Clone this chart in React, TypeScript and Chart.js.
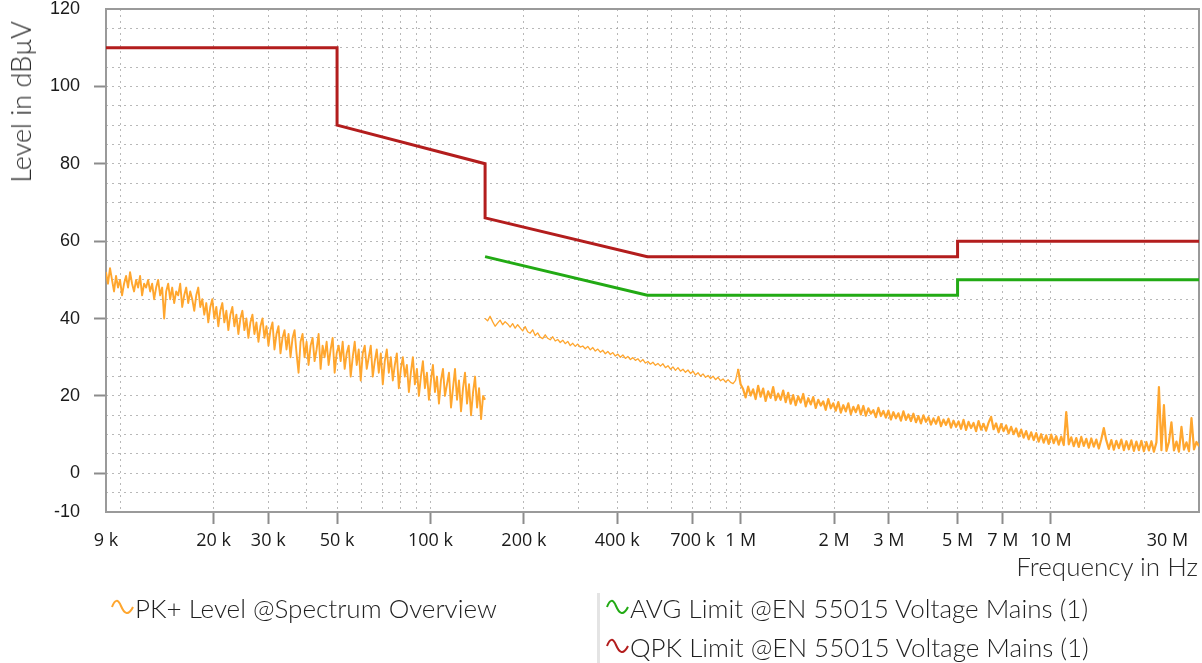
import React, { useEffect, useRef } from 'react';
import { Chart, registerables } from 'chart.js';

Chart.register(...registerables);

// ---------------- data ----------------
// PK+ sweep, band 1 (9 kHz .. 150 kHz), dBµV
const pkBand1Start = 9e3;
const pkBand1Stop = 150e3;
const pkBand1Values = [
  52, 49, 53, 50, 47, 51, 48, 50, 46, 49,
  51, 48, 52, 49, 47, 50, 48, 51, 46, 49,
  48, 50, 47, 49, 45, 48, 50, 46, 48, 40,
  47, 49, 45, 48, 44, 47, 46, 49, 43, 46,
  48, 44, 47, 45, 42, 46, 48, 43, 45, 41,
  44, 39, 43, 45, 40, 43, 38, 42, 44, 39,
  42, 37, 41, 43, 38, 41, 36, 40, 42, 37,
  40, 35, 39, 41, 36, 39, 34, 38, 40, 35,
  38, 33, 37, 39, 32, 36, 38, 31, 35, 37,
  32, 36, 30, 35, 37, 31, 26, 34, 36, 30,
  34, 28, 33, 35, 29, 32, 36, 27, 33, 30,
  34, 28, 32, 35, 26, 31, 33, 29, 34, 27,
  31, 33, 25, 30, 34, 28, 32, 24, 31, 33,
  27, 30, 33, 25, 29, 32, 26, 31, 23, 29,
  32, 26, 30, 24, 28, 31, 22, 27, 30, 25,
  28, 21, 26, 30, 23, 27, 20, 25, 29, 22,
  26, 19, 24, 28, 21, 25, 18, 24, 27, 20,
  23, 26, 17, 22, 27, 19, 24, 16, 22, 26,
  18, 23, 15, 21, 25, 17, 22, 14, 20, 19,
];

// PK+ sweep, band 2 (150 kHz .. 30 MHz), dBµV
const pkBand2Start = 150e3;
const pkBand2Stop = 30e6;
const pkBand2Values = [
  40, 39.4, 40.6, 39.2, 38, 38.8, 39.6, 38.4, 39.2, 38.6,
  37.8, 38.7, 37.5, 38.4, 37.6, 36.8, 37.9, 36.6, 36.2, 37.1,
  35.6, 36.3, 35.2, 34.8, 35.8, 34.9, 34.5, 35.3, 34.2, 34.6,
  33.8, 34.4, 33.5, 34.1, 33.0, 33.6, 32.8, 33.4, 32.6, 32.9,
  32.2, 32.8, 31.9, 32.5, 31.6, 32.1, 31.3, 31.8, 30.9, 31.5,
  30.7, 31.2, 30.3, 30.8, 30.0, 30.6, 29.7, 30.2, 29.4, 29.9,
  29.2, 29.6, 28.8, 29.4, 28.5, 28.9, 28.2, 28.7, 27.9, 28.4,
  27.7, 28.3, 27.3, 27.8, 26.9, 27.5, 26.6, 27.3, 26.4, 26.9,
  26.1, 26.7, 25.8, 26.4, 25.4, 26.0, 25.1, 25.7, 24.8, 25.3,
  24.5, 25.1, 24.2, 24.8, 23.9, 24.4, 23.6, 24.2, 23.5, 23.2,
  24.0, 27.0, 23.0,
  21.8, 19.6, 22.4, 20.1, 21.7, 19.2, 22.6,
  19.8, 21.9, 18.7, 21.2, 19.5, 22.3, 18.9, 20.6, 19.0, 21.4,
  18.4, 20.8, 18.0, 20.2, 17.6, 19.9, 18.3, 20.5, 17.3, 19.4,
  17.8, 19.7, 16.9, 19.0, 17.5, 18.6, 16.4, 19.2, 16.8, 18.1,
  16.2, 18.4, 15.7, 17.6, 16.0, 18.1, 15.3, 17.2, 15.8, 17.6,
  15.2, 17.4, 14.9, 16.8, 15.4, 16.3, 14.5, 16.9, 14.8, 16.1,
  14.4, 16.2, 13.9, 15.8, 14.2, 15.5, 13.6, 16.0, 13.8, 15.2,
  13.5, 15.4, 13.2, 14.8, 12.9, 15.0, 13.3, 14.5, 12.6, 14.2,
  12.8, 14.6, 12.2, 13.9, 12.5, 14.1, 11.8, 13.6, 12.0, 13.4,
  11.5, 13.8, 11.2, 13.3, 11.7, 13.0, 10.9, 13.5, 11.3, 12.8,
  11.0, 13.1, 14.6, 11.4, 12.9, 10.6, 12.7, 10.9, 12.4, 10.3,
  12.0, 10.1, 11.6, 9.5, 11.3, 9.2, 10.9, 8.8, 10.6, 8.6,
  10.4, 8.2, 10.1, 7.9, 9.8, 7.6, 10.0, 7.8, 9.6, 7.4,
  9.5, 7.3, 15.8, 7.5, 9.3, 7.0, 9.1, 6.8, 9.4, 7.1,
  8.9, 6.6, 9.0, 6.9, 8.7, 6.4, 8.8, 11.7, 8.5, 6.3,
  8.6, 6.1, 8.4, 6.5, 8.7, 6.0, 8.3, 6.2, 8.5, 5.8,
  8.2, 6.0, 8.4, 5.7, 8.1, 5.9, 8.3, 5.6, 8.0, 22.3,
  6.0, 17.6, 5.8, 8.1, 13.2, 5.9, 8.2, 5.6, 12.0, 6.1,
  8.0, 5.7, 14.3, 6.2, 8.1, 7.0,
];
// index in band 2 from which the trace becomes a dense noise band (~1 MHz)
const pkBand2DenseFrom = 101;

// EN 55015 voltage mains limits
const qpkFreqs = [9e3, 50e3, 50e3, 150e3, 150e3, 500e3, 5e6, 5e6, 30e6];
const qpkLevels = [110, 110, 90, 80, 66, 56, 56, 60, 60];
const avgFreqs = [150e3, 500e3, 5e6, 5e6, 30e6];
const avgLevels = [56, 46, 46, 50, 50];

// axes
const xMin = 9e3;
const xMax = 30e6;
const xTickValues = [9e3, 20e3, 30e3, 50e3, 100e3, 200e3, 400e3, 700e3, 1e6, 2e6, 3e6, 5e6, 7e6, 10e6, 30e6];
const xTickLabels = ['9 k', '20 k', '30 k', '50 k', '100 k', '200 k', '400 k', '700 k', '1 M', '2 M', '3 M', '5 M', '7 M', '10 M', '30 M'];
const yMin = -10;
const yMax = 120;
const yGridStep = 5;
const yTickValues = [-10, 0, 20, 40, 60, 80, 100, 120];
const yTickLabels = ['-10', '0', '20', '40', '60', '80', '100', '120'];

const ORANGE = '#ffa62e';
const GREEN = '#22aa14';
const RED = '#b31d1d';
const GRID = 'rgba(160,160,160,0.75)';
const TICK = '#8c8c8c';

function sweepFreq(start: number, stop: number, n: number, i: number) {
  return start * Math.pow(stop / start, i / (n - 1));
}

function logGrid(min: number, max: number) {
  const out: number[] = [];
  for (let e = 3; e <= 8; e++) {
    for (let m = 1; m <= 9; m++) {
      const v = m * Math.pow(10, e);
      if (v >= min * 0.999 && v <= max * 1.001) out.push(v);
    }
  }
  return out;
}

function near(a: number, b: number) {
  return Math.abs(a - b) / Math.max(Math.abs(b), 1e-9) < 1e-6 || Math.abs(a - b) < 1e-6;
}

function xLabel(v: number) {
  const i = xTickValues.findIndex((t) => near(v, t));
  if (i < 0) return '';
  let s = xTickLabels[i];
  if (near(v, xMax)) s = s + '\u2002\u2002\u2002\u2002\u2002\u2002\u2002';
  return s;
}

function yLabel(v: number) {
  const i = yTickValues.findIndex((t) => near(v, t));
  return i < 0 ? '' : yTickLabels[i];
}

const framePlugin = {
  id: 'frame',
  beforeDatasetsDraw(chart: any) {
    const { ctx, chartArea: a } = chart;
    ctx.save();
    ctx.strokeStyle = '#9a9a9a';
    ctx.lineWidth = 2;
    ctx.strokeRect(a.left, a.top, a.right - a.left, a.bottom - a.top);
    ctx.restore();
  },
};

function Wave({ color }: { color: string }) {
  return (
    <svg width="24" height="18" viewBox="0 0 24 18" style={{ display: 'block', flex: 'none' }}>
      <path d="M1 8 C 4 0, 7 0, 10 7 S 17 18, 22 8" fill="none" stroke={color} strokeWidth="2" />
    </svg>
  );
}

const textFont = "Lato, 'Open Sans', sans-serif";

export default function App() {
  const ref = useRef<HTMLCanvasElement | null>(null);

  useEffect(() => {
    const canvas = ref.current;
    if (!canvas) return;
    const xGrid = logGrid(xMin, xMax);
    const yGrid: number[] = [];
    for (let v = yMin; v <= yMax + 1e-9; v += yGridStep) yGrid.push(v);

    const band1 = pkBand1Values.map((y, i) => ({ x: sweepFreq(pkBand1Start, pkBand1Stop, pkBand1Values.length, i), y }));
    const band2 = pkBand2Values.map((y, i) => ({ x: sweepFreq(pkBand2Start, pkBand2Stop, pkBand2Values.length, i), y }));
    const qpk = qpkFreqs.map((x, i) => ({ x, y: qpkLevels[i] }));
    const avg = avgFreqs.map((x, i) => ({ x, y: avgLevels[i] }));

    const common = { pointRadius: 0, tension: 0, fill: false, spanGaps: false };

    const chart = new Chart(canvas, {
      type: 'line',
      data: {
        datasets: [
          { label: 'QPK Limit @EN 55015 Voltage Mains (1)', data: qpk, borderColor: RED, borderWidth: 3, ...common },
          { label: 'AVG Limit @EN 55015 Voltage Mains (1)', data: avg, borderColor: GREEN, borderWidth: 3, ...common },
          { label: 'PK+ Level @Spectrum Overview', data: band1, borderColor: ORANGE, borderWidth: 1.9, borderJoinStyle: 'round', ...common },
          {
            label: 'PK+ Level @Spectrum Overview (2)',
            data: band2,
            borderColor: ORANGE,
            borderWidth: 1.3,
            borderJoinStyle: 'round',
            segment: {
              borderWidth: (c: any) => (c.p0DataIndex >= pkBand2DenseFrom ? 2.2 : 1.3),
            },
            ...common,
          },
        ],
      },
      options: {
        responsive: false,
        animation: false,
        events: [],
        layout: { padding: { top: 9, right: 3, left: 0, bottom: 0 } },
        plugins: { legend: { display: false }, tooltip: { enabled: false }, title: { display: false } },
        scales: {
          x: {
            type: 'logarithmic',
            min: xMin,
            max: xMax,
            afterBuildTicks: (s: any) => {
              s.ticks = xGrid.map((v) => ({ value: v }));
            },
            afterFit: (s: any) => {
              s.height = 151;
              s.paddingLeft = 0;
              s.paddingRight = 0;
            },
            ticks: {
              autoSkip: false,
              maxRotation: 0,
              minRotation: 0,
              padding: 6,
              color: '#1a1a1a',
              font: { family: "'Open Sans', sans-serif", size: 18 },
              callback: (v: any) => xLabel(Number(v)),
            },
            grid: {
              lineWidth: 1,
              color: (c: any) => {
                const v = c.tick ? c.tick.value : 0;
                return near(v, xMin) || near(v, xMax) ? 'rgba(0,0,0,0)' : GRID;
              },
              tickColor: (c: any) => {
                const v = c.tick ? c.tick.value : 0;
                if (near(v, xMin) || near(v, xMax)) return 'rgba(0,0,0,0)';
                return xTickValues.some((t) => near(v, t)) ? TICK : 'rgba(0,0,0,0)';
              },
              tickLength: 12,
              tickWidth: 2,
            },
            border: { display: false, dash: [2, 4] },
          },
          y: {
            type: 'linear',
            min: yMin,
            max: yMax,
            afterBuildTicks: (s: any) => {
              s.ticks = yGrid.map((v) => ({ value: v }));
            },
            afterFit: (s: any) => {
              s.width = 106;
              s.paddingTop = 0;
              s.paddingBottom = 0;
            },
            ticks: {
              autoSkip: false,
              padding: 14,
              color: '#1a1a1a',
              font: { family: "'Liberation Sans', Arial, sans-serif", size: 18 },
              callback: (v: any) => yLabel(Number(v)),
            },
            grid: {
              lineWidth: 1,
              color: (c: any) => {
                const v = c.tick ? c.tick.value : 0;
                return near(v, yMin) || near(v, yMax) ? 'rgba(0,0,0,0)' : GRID;
              },
              tickColor: (c: any) => {
                const v = c.tick ? c.tick.value : 0;
                if (near(v, yMin) || near(v, yMax)) return 'rgba(0,0,0,0)';
                return v % 20 === 0 ? TICK : 'rgba(0,0,0,0)';
              },
              tickLength: 12,
              tickWidth: 2,
            },
            border: { display: false, dash: [2, 4] },
          },
        },
      } as any,
      plugins: [framePlugin],
    });
    return () => chart.destroy();
  }, []);

  const legendText: React.CSSProperties = {
    fontFamily: textFont,
    fontWeight: 300,
    fontSize: 26,
    color: '#1f1f1f',
    whiteSpace: 'nowrap',
    lineHeight: '32px',
  };

  return (
    <div style={{ position: 'fixed', left: 0, top: 0, width: 1202, height: 663, background: '#fff', overflow: 'hidden' }}>
      <canvas ref={ref} width={1202} height={663} style={{ position: 'absolute', left: 0, top: 0 }} />
      <div
        style={{
          position: 'absolute',
          left: 7,
          top: 21,
          writingMode: 'vertical-rl',
          transform: 'rotate(180deg)',
          fontFamily: textFont,
          fontWeight: 300,
          fontSize: 27,
          lineHeight: '28px',
          color: '#2a2a2a',
          whiteSpace: 'nowrap',
        }}
      >
        Level in dBµV
      </div>
      <div
        style={{
          position: 'absolute',
          right: 4,
          top: 551,
          fontFamily: textFont,
          fontWeight: 300,
          fontSize: 26,
          lineHeight: '30px',
          color: '#2a2a2a',
          whiteSpace: 'nowrap',
        }}
      >
        Frequency in Hz
      </div>
      <div style={{ position: 'absolute', left: 111, top: 592, display: 'flex', alignItems: 'center' }}>
        <Wave color={ORANGE} />
        <span style={legendText}>PK+ Level @Spectrum Overview</span>
      </div>
      <div style={{ position: 'absolute', left: 597, top: 593, width: 3, height: 70, background: '#e4e4e4' }} />
      <div style={{ position: 'absolute', left: 606, top: 592, display: 'flex', alignItems: 'center' }}>
        <Wave color={GREEN} />
        <span style={legendText}>AVG Limit @EN 55015 Voltage Mains (1)</span>
      </div>
      <div style={{ position: 'absolute', left: 606, top: 631, display: 'flex', alignItems: 'center' }}>
        <Wave color={RED} />
        <span style={legendText}>QPK Limit @EN 55015 Voltage Mains (1)</span>
      </div>
    </div>
  );
}
